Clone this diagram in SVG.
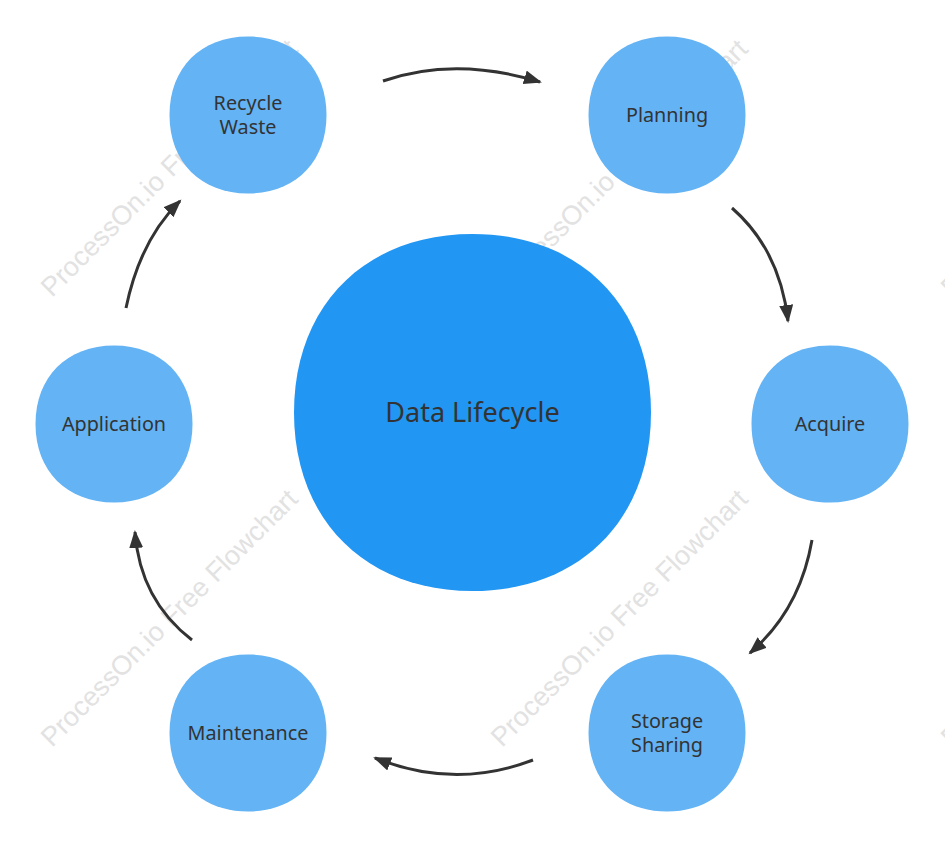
<svg xmlns="http://www.w3.org/2000/svg" xmlns:xlink="http://www.w3.org/1999/xlink" width="945" height="847" viewBox="0 0 945 847">
<style>
.bg{fill:#ffffff}
.wm{font-family:"Liberation Sans",Arial,sans-serif;font-size:27px;fill:#e2e2e2}
.node{fill:#63b3f5}
.core{fill:#2196f3}
.lbl{font-family:"Noto Sans","Open Sans",sans-serif;font-size:19.8px;fill:#333333;text-anchor:middle}
.big{font-size:27px}
.conn path{fill:none;stroke:#333333;stroke-width:3;marker-end:url(#arr)}
</style>
<defs>
<marker id="arr" markerUnits="userSpaceOnUse" markerWidth="20" markerHeight="16" refX="16" refY="7" orient="auto">
<path d="M0,0 L18,7 L0,14 Z" fill="#333333"/>
</marker>
<path id="blob" d="M0,-78.5 C47.1,-78.5 78.5,-47.1 78.5,0 C78.5,47.1 47.1,78.5 0,78.5 C-47.1,78.5 -78.5,47.1 -78.5,0 C-78.5,-47.1 -47.1,-78.5 0,-78.5Z"/>
</defs>
<rect class="bg" x="0" y="0" width="945" height="847"/>
<g id="watermarks">
<text class="wm" transform="translate(52,298) rotate(-45)">ProcessOn.io Free Flowchart</text>
<text class="wm" transform="translate(502,298) rotate(-45)">ProcessOn.io Free Flowchart</text>
<text class="wm" transform="translate(952,298) rotate(-45)">ProcessOn.io Free Flowchart</text>
<text class="wm" transform="translate(52,748) rotate(-45)">ProcessOn.io Free Flowchart</text>
<text class="wm" transform="translate(502,748) rotate(-45)">ProcessOn.io Free Flowchart</text>
<text class="wm" transform="translate(952,748) rotate(-45)">ProcessOn.io Free Flowchart</text>
</g>
<g id="core">
<path class="core" d="M472.5,234 C579.6,234 651,305.4 651,412.5 C651,519.6 579.6,591 472.5,591 C365.4,591 294,519.6 294,412.5 C294,305.4 365.4,234 472.5,234 Z"/>
<text class="lbl big" x="472.5" y="422">Data Lifecycle</text>
</g>
<g id="recycle">
<use href="#blob" class="node" x="248" y="115"/>
<text class="lbl"><tspan x="248" y="110">Recycle</tspan><tspan x="248" y="134">Waste</tspan></text>
</g>
<g id="planning">
<use href="#blob" class="node" x="667" y="115"/>
<text class="lbl" x="667" y="122">Planning</text>
</g>
<g id="acquire">
<use href="#blob" class="node" x="830" y="424"/>
<text class="lbl" x="830" y="431">Acquire</text>
</g>
<g id="storage">
<use href="#blob" class="node" x="667" y="733"/>
<text class="lbl"><tspan x="667" y="728">Storage</tspan><tspan x="667" y="752">Sharing</tspan></text>
</g>
<g id="maintenance">
<use href="#blob" class="node" x="248" y="733"/>
<text class="lbl" x="248" y="740">Maintenance</text>
</g>
<g id="application">
<use href="#blob" class="node" x="114" y="424"/>
<text class="lbl" x="114" y="431">Application</text>
</g>
<g id="connectors" class="conn">
<path d="M383,81 Q455,56 540,82"/>
<path d="M732,208 Q780,250 788,321"/>
<path d="M812,540 Q800,610 750,653"/>
<path d="M533,760 Q455,790 375,758"/>
<path d="M192,640 Q140,600 135,532"/>
<path d="M126,308 Q140,240 180,201"/>
</g>
</svg>
